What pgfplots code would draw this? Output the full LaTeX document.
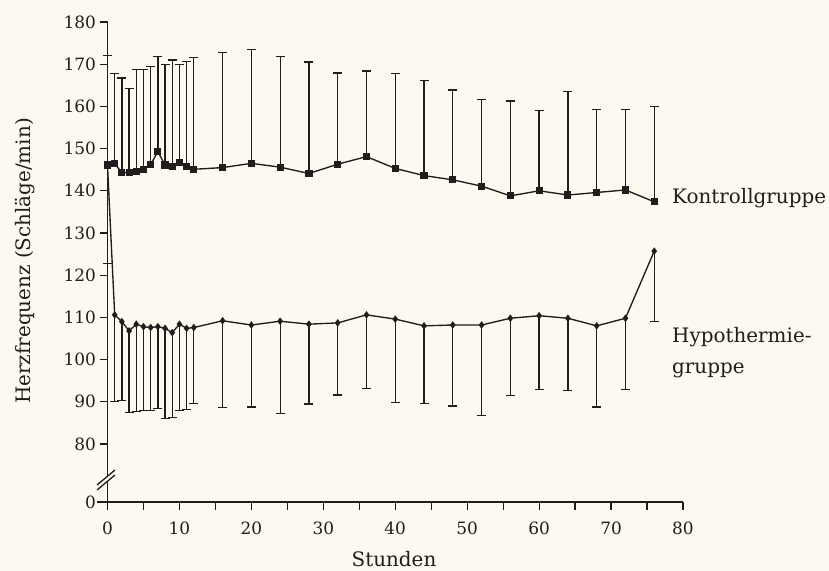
\documentclass[border=0pt]{standalone}
\usepackage{fontspec}
\setmainfont{DejaVu Serif}
\usepackage{pgfplots}
\usepackage{pgfplotstable}
\pgfplotsset{compat=1.18}
\definecolor{bg}{RGB}{252,249,241}
\definecolor{ink}{RGB}{32,30,28}

\pgfplotstableread{
t v e
0 146.1 25.9
1 146.4 21.4
2 144.3 22.4
3 144.3 20.0
4 144.5 24.2
5 145.1 23.6
6 146.2 23.2
7 149.3 22.6
8 146.1 23.9
9 145.7 25.3
10 146.7 23.3
11 145.7 24.9
12 145.1 26.5
16 145.5 27.3
20 146.5 26.9
24 145.6 26.2
28 144.1 26.4
32 146.3 21.6
36 148.1 20.3
40 145.3 22.5
44 143.6 22.5
48 142.6 21.3
52 141.1 20.5
56 138.8 22.5
60 140.0 19.0
64 139.0 24.5
68 139.6 19.7
72 140.2 19.1
76 137.4 22.5
}\kontroll

\pgfplotstableread{
t v e
0 146.0 23.2
1 110.6 20.6
2 109.0 18.7
3 106.8 19.3
4 108.4 20.7
5 107.8 19.9
6 107.6 19.7
7 107.8 19.4
8 107.4 21.3
9 106.4 20.1
10 108.4 20.5
11 107.4 19.3
12 107.6 18.0
16 109.2 20.6
20 108.2 19.4
24 109.1 21.8
28 108.4 18.9
32 108.7 17.1
36 110.6 17.4
40 109.6 19.8
44 108.0 18.4
48 108.2 19.2
52 108.2 21.5
56 109.8 18.3
60 110.4 17.4
64 109.8 17.1
68 108.0 19.2
72 109.8 16.9
76 125.7 16.7
}\hypo

\begin{document}
\begin{tikzpicture}
\path[use as bounding box, fill=bg] (0bp,0bp) rectangle (829bp,571bp);
\begin{axis}[
  anchor=south west, at={(107.5bp,69bp)},
  scale only axis, width=575.5bp, height=480bp,
  xmin=0, xmax=80, ymin=66.26, ymax=180,
  axis x line*=bottom, axis y line*=left,
  axis line style={line width=1.4bp, ink, -},
  xtick={0,10,20,30,40,50,60,70,80},
  minor xtick={5,15,25,35,45,55,65,75},
  ytick={66.26,80,90,100,110,120,130,140,150,160,170,180},
  yticklabels={0,80,90,100,110,120,130,140,150,160,170,180},
  tick align=outside, major tick length=8bp, minor tick length=8bp,
  every tick/.style={line width=1.2bp, ink},
  /pgf/number format/assume math mode=true,
  tick label style={font=\fontsize{17}{19}\selectfont, text=ink},
  xticklabel style={yshift=-8bp},
  clip=false,
]
\addplot[ink, line width=1.35bp, mark=square*, mark size=2.9bp, mark options={solid},
  error bars/.cd, y dir=plus, y explicit,
  error bar style={line width=1.3bp, ink},
  error mark options={rotate=90, line width=1.3bp, mark size=4.5bp, ink}]
  table[x=t, y=v, y error=e] {\kontroll};
\addplot[ink, line width=1.35bp, mark=diamond*, mark size=2.7bp, mark options={solid},
  error bars/.cd, y dir=minus, y explicit,
  error bar style={line width=1.3bp, ink},
  error mark options={rotate=90, line width=1.3bp, mark size=4.5bp, ink}]
  table[x=t, y=v, y error=e] {\hypo};
\end{axis}
% axis break and small extension of the x axis line
\draw[line width=1.4bp, ink] (97bp,69bp) -- (107.5bp,69bp);
\fill[bg] (97bp,86bp) -- (115bp,101bp) -- (115bp,96bp) -- (97bp,81bp) -- cycle;
\draw[line width=1.3bp, ink] (97bp,86bp) -- (115bp,101bp);
\draw[line width=1.3bp, ink] (97bp,81bp) -- (115bp,96bp);
% labels
\node[anchor=base west, inner sep=0pt, text=ink, font=\fontsize{20}{24}\selectfont] at (672bp,367bp) {Kontrollgruppe};
\node[anchor=base west, inner sep=0pt, text=ink, font=\fontsize{20}{24}\selectfont] at (672bp,228bp) {Hypothermie-};
\node[anchor=base west, inner sep=0pt, text=ink, font=\fontsize{20}{24}\selectfont] at (672bp,197bp) {gruppe};
\node[anchor=base, inner sep=0pt, text=ink, font=\fontsize{20}{24}\selectfont] at (394bp,5bp) {Stunden};
\node[anchor=base, rotate=90, inner sep=0pt, text=ink, font=\fontsize{20}{24}\selectfont] at (30bp,310bp) {Herzfrequenz (Schläge/min)};
\end{tikzpicture}
\end{document}
